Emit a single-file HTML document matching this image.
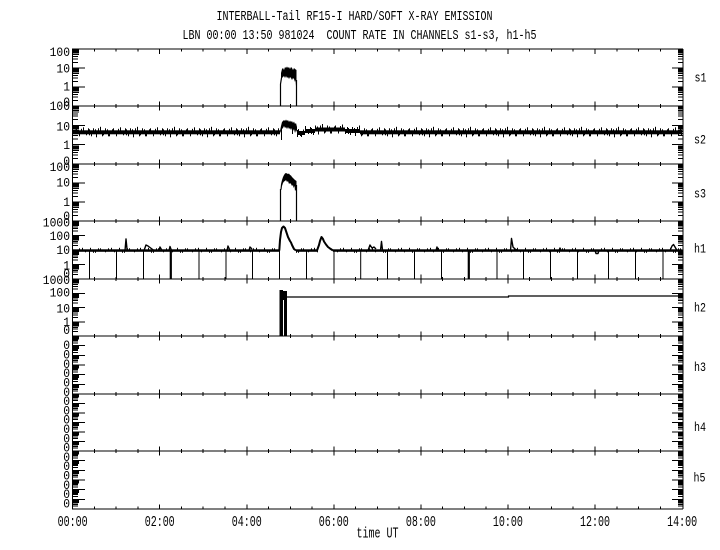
<!DOCTYPE html>
<html><head><meta charset="utf-8"><style>
html,body{margin:0;padding:0;background:#fff;}
svg{display:block;}
text{font-family:"Liberation Mono","DejaVu Sans Mono",monospace;fill:#000;}
.tt{font-size:13.5px;}
.yl{font-size:13px;}
.xl{font-size:14.5px;}
</style></head><body>
<svg width="720" height="550" viewBox="0 0 720 550" xmlns="http://www.w3.org/2000/svg">
<defs>
<path id="dL19" d="M0,0h13M0,-5.7h6M0,-9.1h6M0,-11.4h6M0,-13.3h7M0,-14.8h7M0,-16.1h7M0,-17.2h7M0,-18.1h7" stroke="#000" stroke-width="1" shape-rendering="crispEdges"/>
<path id="dR19" d="M0,0h-11M0,-5.7h-5M0,-9.1h-5M0,-11.4h-5M0,-13.3h-5M0,-14.8h-5M0,-16.1h-5M0,-17.2h-5M0,-18.1h-5" stroke="#000" stroke-width="1" shape-rendering="crispEdges"/>
<path id="dL14" d="M0,0h13M0,-4.3h6M0,-6.9h6M0,-8.7h6M0,-10.1h7M0,-11.2h7M0,-12.2h7M0,-13h7M0,-13.7h7" stroke="#000" stroke-width="1" shape-rendering="crispEdges"/>
<path id="dR14" d="M0,0h-11M0,-4.3h-5M0,-6.9h-5M0,-8.7h-5M0,-10.1h-5M0,-11.2h-5M0,-12.2h-5M0,-13h-5M0,-13.7h-5" stroke="#000" stroke-width="1" shape-rendering="crispEdges"/>
<path id="dL10" d="M0,0h13M0,-2.9h6M0,-4.6h6M0,-5.8h6M0,-6.7h7M0,-7.5h7M0,-8.1h7M0,-8.7h7M0,-9.2h7" stroke="#000" stroke-width="1" shape-rendering="crispEdges"/>
<path id="dR10" d="M0,0h-11M0,-2.9h-5M0,-4.6h-5M0,-5.8h-5M0,-6.7h-5M0,-7.5h-5M0,-8.1h-5M0,-8.7h-5M0,-9.2h-5" stroke="#000" stroke-width="1" shape-rendering="crispEdges"/>
<path id="xtB" d="M94.4,-2v4M116.2,-2v4M137.9,-2v4M181.5,-2v4M203.2,-2v4M225,-2v4M268.5,-2v4M290.3,-2v4M312.1,-2v4M355.6,-2v4M377.4,-2v4M399.1,-2v4M442.7,-2v4M464.4,-2v4M486.2,-2v4M529.7,-2v4M551.5,-2v4M573.2,-2v4M616.8,-2v4M638.5,-2v4M660.3,-2v4M159.7,-4.5v9M246.8,-4.5v9M333.8,-4.5v9M420.9,-4.5v9M507.9,-4.5v9M595,-4.5v9" stroke="#000" stroke-width="1" shape-rendering="crispEdges"/>
<path id="xtT" d="M94.4,0v2.5M116.2,0v2.5M137.9,0v2.5M181.5,0v2.5M203.2,0v2.5M225,0v2.5M268.5,0v2.5M290.3,0v2.5M312.1,0v2.5M355.6,0v2.5M377.4,0v2.5M399.1,0v2.5M442.7,0v2.5M464.4,0v2.5M486.2,0v2.5M529.7,0v2.5M551.5,0v2.5M573.2,0v2.5M616.8,0v2.5M638.5,0v2.5M660.3,0v2.5M159.7,0v5M246.8,0v5M333.8,0v5M420.9,0v5M507.9,0v5M595,0v5" stroke="#000" stroke-width="1" shape-rendering="crispEdges"/>
<path id="xtU" d="M94.4,-2.5v2.5M116.2,-2.5v2.5M137.9,-2.5v2.5M181.5,-2.5v2.5M203.2,-2.5v2.5M225,-2.5v2.5M268.5,-2.5v2.5M290.3,-2.5v2.5M312.1,-2.5v2.5M355.6,-2.5v2.5M377.4,-2.5v2.5M399.1,-2.5v2.5M442.7,-2.5v2.5M464.4,-2.5v2.5M486.2,-2.5v2.5M529.7,-2.5v2.5M551.5,-2.5v2.5M573.2,-2.5v2.5M616.8,-2.5v2.5M638.5,-2.5v2.5M660.3,-2.5v2.5M159.7,-4.5v4.5M246.8,-4.5v4.5M333.8,-4.5v4.5M420.9,-4.5v4.5M507.9,-4.5v4.5M595,-4.5v4.5" stroke="#000" stroke-width="1" shape-rendering="crispEdges"/>
<pattern id="nz" patternUnits="userSpaceOnUse" x="0" y="-7" width="37" height="14">
<rect x="0" y="5" width="37" height="4" fill="#000"/>
<path d="M1.5,4v4M2.5,3v4M5.5,7v4M7.5,3.5v4M9.5,2v5M12.5,7v3M14.5,3v4M15.5,4v6M17.5,7v4M19.5,3v4M21.5,4v4M22.5,7v5M24.5,3v4M26.5,1.5v6M28.5,7v4M29.5,7v3M31.5,3v4M33.5,4v3M34.5,7v4M35.5,7v4" stroke="#000" stroke-width="1"/>
</pattern>
<pattern id="nz2" patternUnits="userSpaceOnUse" x="0" y="-5" width="29" height="10">
<rect x="0" y="4" width="29" height="2.5" fill="#000"/>
<path d="M3.5,2.5v3M6.5,5v2.5M8.5,5v2.5M11.5,3v2M13.5,3v2M18.5,5v2M21.5,3v2M24.5,2.5v3M27.5,5v2" stroke="#000" stroke-width="1"/>
</pattern>
</defs>

<text class="tt" x="216.5" y="20" textLength="276" lengthAdjust="spacingAndGlyphs">INTERBALL-Tail RF15-I HARD/SOFT X-RAY EMISSION</text>
<text class="tt" x="182.5" y="39" textLength="354" lengthAdjust="spacingAndGlyphs" xml:space="preserve">LBN 00:00 13:50 981024  COUNT RATE IN CHANNELS s1-s3, h1-h5</text>

<path d="M72,49H683M72,106H683M72,164H683M72,221H683M72,279H683M72,336H683M72,394H683M72,451H683M72,509H683M72.5,49V509M683,49V509" stroke="#000" stroke-width="1" fill="none" shape-rendering="crispEdges"/>

<use href="#xtT" x="0" y="49"/>
<use href="#xtB" x="0" y="106"/>
<use href="#xtB" x="0" y="164"/>
<use href="#xtB" x="0" y="221"/>
<use href="#xtB" x="0" y="279"/>
<use href="#xtB" x="0" y="336"/>
<use href="#xtB" x="0" y="394"/>
<use href="#xtB" x="0" y="451"/>
<use href="#xtU" x="0" y="509"/>

<use href="#dL19" x="72" y="106"/><use href="#dL19" x="72" y="87"/><use href="#dL19" x="72" y="68"/>
<use href="#dL19" x="72" y="164"/><use href="#dL19" x="72" y="144.7"/><use href="#dL19" x="72" y="125.3"/>
<use href="#dL19" x="72" y="221"/><use href="#dL19" x="72" y="202"/><use href="#dL19" x="72" y="183"/>
<use href="#dL14" x="72" y="279"/><use href="#dL14" x="72" y="264.5"/><use href="#dL14" x="72" y="250"/><use href="#dL14" x="72" y="235.5"/>
<use href="#dL14" x="72" y="336"/><use href="#dL14" x="72" y="321.75"/><use href="#dL14" x="72" y="307.5"/><use href="#dL14" x="72" y="293.25"/>
<use href="#dL10" x="72" y="394"/><use href="#dL10" x="72" y="384.3"/><use href="#dL10" x="72" y="374.7"/><use href="#dL10" x="72" y="365"/><use href="#dL10" x="72" y="355.3"/><use href="#dL10" x="72" y="345.7"/>
<use href="#dL10" x="72" y="451"/><use href="#dL10" x="72" y="441.5"/><use href="#dL10" x="72" y="432"/><use href="#dL10" x="72" y="422.5"/><use href="#dL10" x="72" y="413"/><use href="#dL10" x="72" y="403.5"/>
<use href="#dL10" x="72" y="509"/><use href="#dL10" x="72" y="499.3"/><use href="#dL10" x="72" y="489.7"/><use href="#dL10" x="72" y="480"/><use href="#dL10" x="72" y="470.3"/><use href="#dL10" x="72" y="460.7"/>

<use href="#dR19" x="683" y="106"/><use href="#dR19" x="683" y="87"/><use href="#dR19" x="683" y="68"/>
<use href="#dR19" x="683" y="164"/><use href="#dR19" x="683" y="144.7"/><use href="#dR19" x="683" y="125.3"/>
<use href="#dR19" x="683" y="221"/><use href="#dR19" x="683" y="202"/><use href="#dR19" x="683" y="183"/>
<use href="#dR14" x="683" y="279"/><use href="#dR14" x="683" y="264.5"/><use href="#dR14" x="683" y="250"/><use href="#dR14" x="683" y="235.5"/>
<use href="#dR14" x="683" y="336"/><use href="#dR14" x="683" y="321.75"/><use href="#dR14" x="683" y="307.5"/><use href="#dR14" x="683" y="293.25"/>
<use href="#dR10" x="683" y="394"/><use href="#dR10" x="683" y="384.3"/><use href="#dR10" x="683" y="374.7"/><use href="#dR10" x="683" y="365"/><use href="#dR10" x="683" y="355.3"/><use href="#dR10" x="683" y="345.7"/>
<use href="#dR10" x="683" y="451"/><use href="#dR10" x="683" y="441.5"/><use href="#dR10" x="683" y="432"/><use href="#dR10" x="683" y="422.5"/><use href="#dR10" x="683" y="413"/><use href="#dR10" x="683" y="403.5"/>
<use href="#dR10" x="683" y="509"/><use href="#dR10" x="683" y="499.3"/><use href="#dR10" x="683" y="489.7"/><use href="#dR10" x="683" y="480"/><use href="#dR10" x="683" y="470.3"/><use href="#dR10" x="683" y="460.7"/>

<g class="yl">
<text x="49.6" y="56" textLength="20.4" lengthAdjust="spacingAndGlyphs">100</text>
<text x="56.4" y="72.7" textLength="13.6" lengthAdjust="spacingAndGlyphs">10</text>
<text x="63.2" y="90.7" textLength="6.8" lengthAdjust="spacingAndGlyphs">1</text>
<text x="63.2" y="106" textLength="6.8" lengthAdjust="spacingAndGlyphs">0</text>
<text x="49.6" y="110" textLength="20.4" lengthAdjust="spacingAndGlyphs">100</text>
<text x="56.4" y="130.7" textLength="13.6" lengthAdjust="spacingAndGlyphs">10</text>
<text x="63.2" y="149" textLength="6.8" lengthAdjust="spacingAndGlyphs">1</text>
<text x="63.2" y="165" textLength="6.8" lengthAdjust="spacingAndGlyphs">0</text>
<text x="49.6" y="171" textLength="20.4" lengthAdjust="spacingAndGlyphs">100</text>
<text x="56.4" y="186.7" textLength="13.6" lengthAdjust="spacingAndGlyphs">10</text>
<text x="63.2" y="206" textLength="6.8" lengthAdjust="spacingAndGlyphs">1</text>
<text x="63.2" y="220" textLength="6.8" lengthAdjust="spacingAndGlyphs">0</text>
<text x="42.8" y="226.7" textLength="27.2" lengthAdjust="spacingAndGlyphs">1000</text>
<text x="49.6" y="240" textLength="20.4" lengthAdjust="spacingAndGlyphs">100</text>
<text x="56.4" y="254" textLength="13.6" lengthAdjust="spacingAndGlyphs">10</text>
<text x="63.2" y="269.3" textLength="6.8" lengthAdjust="spacingAndGlyphs">1</text>
<text x="63.2" y="277.3" textLength="6.8" lengthAdjust="spacingAndGlyphs">0</text>
<text x="42.8" y="284" textLength="27.2" lengthAdjust="spacingAndGlyphs">1000</text>
<text x="49.6" y="296.7" textLength="20.4" lengthAdjust="spacingAndGlyphs">100</text>
<text x="56.4" y="312.7" textLength="13.6" lengthAdjust="spacingAndGlyphs">10</text>
<text x="63.2" y="326" textLength="6.8" lengthAdjust="spacingAndGlyphs">1</text>
<text x="63.2" y="334" textLength="6.8" lengthAdjust="spacingAndGlyphs">0</text>
<text x="63.2" y="349.2" textLength="6.8" lengthAdjust="spacingAndGlyphs">0</text>
<text x="63.2" y="358.5" textLength="6.8" lengthAdjust="spacingAndGlyphs">0</text>
<text x="63.2" y="367.8" textLength="6.8" lengthAdjust="spacingAndGlyphs">0</text>
<text x="63.2" y="377.1" textLength="6.8" lengthAdjust="spacingAndGlyphs">0</text>
<text x="63.2" y="386.4" textLength="6.8" lengthAdjust="spacingAndGlyphs">0</text>
<text x="63.2" y="395.8" textLength="6.8" lengthAdjust="spacingAndGlyphs">0</text>
<text x="63.2" y="405.1" textLength="6.8" lengthAdjust="spacingAndGlyphs">0</text>
<text x="63.2" y="414.4" textLength="6.8" lengthAdjust="spacingAndGlyphs">0</text>
<text x="63.2" y="423.7" textLength="6.8" lengthAdjust="spacingAndGlyphs">0</text>
<text x="63.2" y="433" textLength="6.8" lengthAdjust="spacingAndGlyphs">0</text>
<text x="63.2" y="442.3" textLength="6.8" lengthAdjust="spacingAndGlyphs">0</text>
<text x="63.2" y="451.6" textLength="6.8" lengthAdjust="spacingAndGlyphs">0</text>
<text x="63.2" y="460.9" textLength="6.8" lengthAdjust="spacingAndGlyphs">0</text>
<text x="63.2" y="470.2" textLength="6.8" lengthAdjust="spacingAndGlyphs">0</text>
<text x="63.2" y="479.5" textLength="6.8" lengthAdjust="spacingAndGlyphs">0</text>
<text x="63.2" y="488.9" textLength="6.8" lengthAdjust="spacingAndGlyphs">0</text>
<text x="63.2" y="498.2" textLength="6.8" lengthAdjust="spacingAndGlyphs">0</text>
<text x="63.2" y="507.5" textLength="6.8" lengthAdjust="spacingAndGlyphs">0</text>
</g>

<g class="yl">
<text x="694.5" y="81.7" textLength="12" lengthAdjust="spacingAndGlyphs">s1</text>
<text x="694" y="143.3" textLength="12" lengthAdjust="spacingAndGlyphs">s2</text>
<text x="694" y="197.3" textLength="12" lengthAdjust="spacingAndGlyphs">s3</text>
<text x="694" y="252.7" textLength="12" lengthAdjust="spacingAndGlyphs">h1</text>
<text x="694" y="311.7" textLength="12" lengthAdjust="spacingAndGlyphs">h2</text>
<text x="694" y="371" textLength="12" lengthAdjust="spacingAndGlyphs">h3</text>
<text x="694" y="431" textLength="12" lengthAdjust="spacingAndGlyphs">h4</text>
<text x="693.5" y="481.7" textLength="12" lengthAdjust="spacingAndGlyphs">h5</text>
</g>

<g class="xl">
<text x="57.6" y="526" textLength="30" lengthAdjust="spacingAndGlyphs">00:00</text>
<text x="144.7" y="526" textLength="30" lengthAdjust="spacingAndGlyphs">02:00</text>
<text x="231.8" y="526" textLength="30" lengthAdjust="spacingAndGlyphs">04:00</text>
<text x="318.8" y="526" textLength="30" lengthAdjust="spacingAndGlyphs">06:00</text>
<text x="405.9" y="526" textLength="30" lengthAdjust="spacingAndGlyphs">08:00</text>
<text x="492.9" y="526" textLength="30" lengthAdjust="spacingAndGlyphs">10:00</text>
<text x="580" y="526" textLength="30" lengthAdjust="spacingAndGlyphs">12:00</text>
<text x="667.1" y="526" textLength="30" lengthAdjust="spacingAndGlyphs">14:00</text>
<text x="356.5" y="537.5" textLength="42" lengthAdjust="spacingAndGlyphs">time UT</text>
</g>

<path d="M280.5,106V84L281.5,78M296.5,80V106" stroke="#000" stroke-width="1.2" fill="none"/>
<path d="M281,79L281,73L282,69L283,68L284,70L285,67L286,68L287,66.5L288,68L289,67L290,69L291,67L292,68L293,70L294,68L295,69L296.5,70L296.5,80L296,86L295.5,80L295,82L294,79L293,78L292,80L291,78L290,77L289,79L288,77L287,78L286,76L285,78L284,76L283,77L282,78Z" fill="#000"/>

<g transform="translate(0,132.3)"><rect x="73" y="-7" width="207" height="14" fill="url(#nz)"/></g>
<g transform="translate(0,133)"><rect x="297" y="-7" width="8" height="14" fill="url(#nz)"/></g>
<g transform="translate(0,131)"><rect x="305" y="-7" width="10" height="14" fill="url(#nz)"/></g>
<g transform="translate(0,129.5)"><rect x="315" y="-7" width="30" height="14" fill="url(#nz)"/></g>
<g transform="translate(0,131)"><rect x="345" y="-7" width="15" height="14" fill="url(#nz)"/></g>
<g transform="translate(0,132.3)"><rect x="360" y="-7" width="322" height="14" fill="url(#nz)"/></g>
<path d="M280,131L281,126L282,122L283,121L284,120L285,121L286,119.5L287,121L288,120L289,122L290,120.5L291,122L292,121L293,123L294,121.5L295,124L296,123L297,127L297,132L296,130L295,133L294,129L293,131L292,128L291,130L290,128L289,129L288,127L287,129L286,127L285,128L284,126L283,128L282,129L281,133Z" fill="#000"/>
<path d="M281.5,128V140M292.5,127V134M297.5,130V137M300.5,131V136" stroke="#000" stroke-width="1"/>

<path d="M280.5,221V189M296.5,185V221" stroke="#000" stroke-width="1.2" fill="none"/>
<path d="M280.5,189L281,184L282,180L283,177L284,175L285,173.5L286,173L287,173.5L288,174L289,173.5L290,175L291,175.5L292,177L293,178L294,179L295,180L296.5,181L296.5,189L295,191L294.5,186L293.5,188L293,185L292,186L291,184L290,183L289,184L288,181L287,182L286,180L285,181L284,181.5L283,183L282,186L281.5,190Z" fill="#000"/>

<g transform="translate(0,250.3)">
<rect x="73" y="-5" width="206" height="10" fill="url(#nz2)"/>
<rect x="296" y="-5" width="22" height="10" fill="url(#nz2)"/>
<rect x="333" y="-5" width="349" height="10" fill="url(#nz2)"/>
</g>
<path d="M125,250.5L126,239L127,249L128,250.5M144,250.5L146,245L148,246L150,247.5L154,250.5M159,250.5L160,247L162,250.5M169,250.5L170,246.5L171.5,250.5M227,250.5L228,246L230,250.5M249,250.5L250,247L252,249M368,250.5L370,245L372,248L374,247L376,249M380.5,250.5L381.5,241.5L382.5,250M436,250.5L437,247L438,250.5M510.5,250.5L511.5,238.5L513,247L515,249L518,250.5M559,250.5L560,248L561,250.5M595,250.5L596,253.5L598,253.5L599,250.5M670,250.5L672,246L673.5,244.5L675,247L677,250.5" stroke="#000" stroke-width="1.4" fill="none" stroke-linejoin="round"/>
<path d="M279.3,250.5L280,240L281,232L282,228L283.5,226.5L285,228L286,231L287,234L288,237L289,239L290,241L291,242.5L292,245L293,247L294,249L296,250.5M317,250.5L319,245L320,241L321.5,237L323,239L324,241.5L326,244.5L328,247L330,248.5L333,250.5" stroke="#000" stroke-width="2" fill="none" stroke-linejoin="round"/>
<path d="M89.5,250V279M116.5,250V279M143.5,250V279M199,250V279M226,250V279M252.5,250V279M279.5,250V279M306.5,250V279M334,250V279M360.7,250V279M387.5,250V279M414.5,250V279M441.5,250V279M497,250V279M523.5,250V279M550.5,250V279M577.5,250V279M608.5,250V279M635.5,250V279M663,250V279" stroke="#000" stroke-width="1"/>
<path d="M170.8,250V279M468.8,250V279" stroke="#000" stroke-width="2.2"/>

<rect x="279.5" y="290" width="3.5" height="46" fill="#000"/>
<rect x="284" y="291.5" width="3" height="44.5" fill="#000"/>
<rect x="279.5" y="291" width="7.5" height="9" fill="#000"/>
<path d="M286.7,297H508.5V296H683" stroke="#000" stroke-width="1.2" fill="none"/>
</svg>
</body></html>
